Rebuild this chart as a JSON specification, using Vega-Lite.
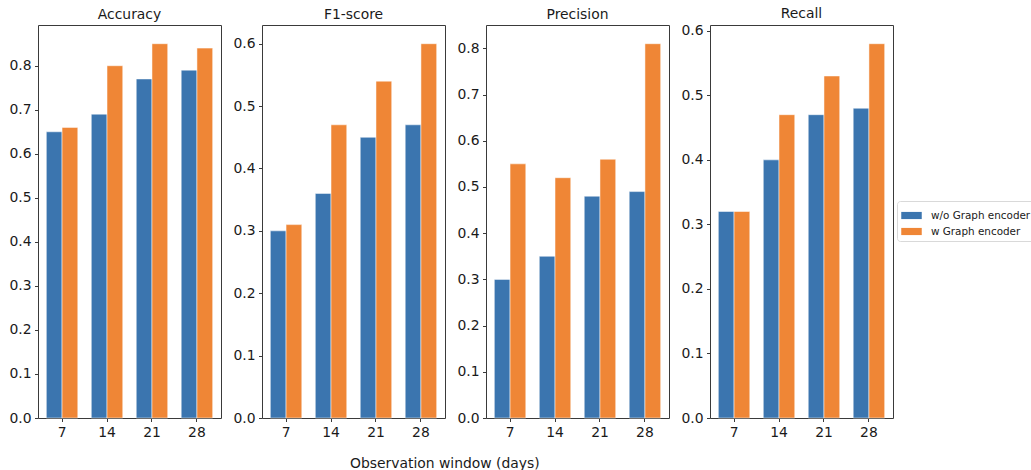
{
  "$schema": "https://vega.github.io/schema/vega-lite/v6.json",
  "padding": {"left": 8, "top": 6, "right": 0, "bottom": 0},
  "background": "white",
  "datasets": {
    "scores": [
      {"metric": "Accuracy", "window": 7, "model": "w/o Graph encoder", "value": 0.65},
      {"metric": "Accuracy", "window": 7, "model": "w Graph encoder", "value": 0.66},
      {"metric": "Accuracy", "window": 14, "model": "w/o Graph encoder", "value": 0.69},
      {"metric": "Accuracy", "window": 14, "model": "w Graph encoder", "value": 0.80},
      {"metric": "Accuracy", "window": 21, "model": "w/o Graph encoder", "value": 0.77},
      {"metric": "Accuracy", "window": 21, "model": "w Graph encoder", "value": 0.85},
      {"metric": "Accuracy", "window": 28, "model": "w/o Graph encoder", "value": 0.79},
      {"metric": "Accuracy", "window": 28, "model": "w Graph encoder", "value": 0.84},
      {"metric": "F1-score", "window": 7, "model": "w/o Graph encoder", "value": 0.30},
      {"metric": "F1-score", "window": 7, "model": "w Graph encoder", "value": 0.31},
      {"metric": "F1-score", "window": 14, "model": "w/o Graph encoder", "value": 0.36},
      {"metric": "F1-score", "window": 14, "model": "w Graph encoder", "value": 0.47},
      {"metric": "F1-score", "window": 21, "model": "w/o Graph encoder", "value": 0.45},
      {"metric": "F1-score", "window": 21, "model": "w Graph encoder", "value": 0.54},
      {"metric": "F1-score", "window": 28, "model": "w/o Graph encoder", "value": 0.47},
      {"metric": "F1-score", "window": 28, "model": "w Graph encoder", "value": 0.60},
      {"metric": "Precision", "window": 7, "model": "w/o Graph encoder", "value": 0.30},
      {"metric": "Precision", "window": 7, "model": "w Graph encoder", "value": 0.55},
      {"metric": "Precision", "window": 14, "model": "w/o Graph encoder", "value": 0.35},
      {"metric": "Precision", "window": 14, "model": "w Graph encoder", "value": 0.52},
      {"metric": "Precision", "window": 21, "model": "w/o Graph encoder", "value": 0.48},
      {"metric": "Precision", "window": 21, "model": "w Graph encoder", "value": 0.56},
      {"metric": "Precision", "window": 28, "model": "w/o Graph encoder", "value": 0.49},
      {"metric": "Precision", "window": 28, "model": "w Graph encoder", "value": 0.81},
      {"metric": "Recall", "window": 7, "model": "w/o Graph encoder", "value": 0.32},
      {"metric": "Recall", "window": 7, "model": "w Graph encoder", "value": 0.32},
      {"metric": "Recall", "window": 14, "model": "w/o Graph encoder", "value": 0.40},
      {"metric": "Recall", "window": 14, "model": "w Graph encoder", "value": 0.47},
      {"metric": "Recall", "window": 21, "model": "w/o Graph encoder", "value": 0.47},
      {"metric": "Recall", "window": 21, "model": "w Graph encoder", "value": 0.53},
      {"metric": "Recall", "window": 28, "model": "w/o Graph encoder", "value": 0.48},
      {"metric": "Recall", "window": 28, "model": "w Graph encoder", "value": 0.58}
    ]
  },
  "data": {"name": "scores"},
  "title": {
    "text": "Observation window (days)",
    "orient": "bottom",
    "anchor": "start",
    "frame": "group",
    "dx": 312,
    "offset": 18,
    "fontSize": 13.9,
    "fontWeight": "normal",
    "color": "#1a1a1a"
  },
  "spacing": 10,
  "hconcat": [
    {
      "title": "Accuracy",
      "width": 183, "height": 393,
      "transform": [{"filter": "datum.metric === 'Accuracy'"}],
      "mark": {"type": "bar", "stroke": "white", "strokeWidth": 0.5},
      "encoding": {
        "x": {"field": "window", "type": "ordinal", "sort": [7, 14, 21, 28], "scale": {"paddingInner": 0.3, "paddingOuter": 0.185}},
        "xOffset": {"field": "model", "type": "nominal", "sort": ["w/o Graph encoder", "w Graph encoder"], "scale": {"paddingInner": 0, "paddingOuter": 0}},
        "y": {"field": "value", "type": "quantitative", "scale": {"domain": [0, 0.8925], "nice": false}, "axis": {"values": [0, 0.1, 0.2, 0.3, 0.4, 0.5, 0.6, 0.7, 0.8]}},
        "color": {"field": "model", "type": "nominal", "sort": ["w/o Graph encoder", "w Graph encoder"], "scale": {"domain": ["w/o Graph encoder", "w Graph encoder"], "range": ["#3b75af", "#ef8636"]}, "legend": {"orient": "none", "legendX": 859, "legendY": 176}}
      }
    },
    {
      "title": "F1-score",
      "width": 183, "height": 393,
      "transform": [{"filter": "datum.metric === 'F1-score'"}],
      "mark": {"type": "bar", "stroke": "white", "strokeWidth": 0.5},
      "encoding": {
        "x": {"field": "window", "type": "ordinal", "sort": [7, 14, 21, 28], "scale": {"paddingInner": 0.3, "paddingOuter": 0.185}},
        "xOffset": {"field": "model", "type": "nominal", "sort": ["w/o Graph encoder", "w Graph encoder"], "scale": {"paddingInner": 0, "paddingOuter": 0}},
        "y": {"field": "value", "type": "quantitative", "scale": {"domain": [0, 0.63], "nice": false}, "axis": {"values": [0, 0.1, 0.2, 0.3, 0.4, 0.5, 0.6]}},
        "color": {"field": "model", "type": "nominal", "sort": ["w/o Graph encoder", "w Graph encoder"], "scale": {"domain": ["w/o Graph encoder", "w Graph encoder"], "range": ["#3b75af", "#ef8636"]}, "legend": {"orient": "none", "legendX": 859, "legendY": 176}}
      }
    },
    {
      "title": "Precision",
      "width": 183, "height": 393,
      "transform": [{"filter": "datum.metric === 'Precision'"}],
      "mark": {"type": "bar", "stroke": "white", "strokeWidth": 0.5},
      "encoding": {
        "x": {"field": "window", "type": "ordinal", "sort": [7, 14, 21, 28], "scale": {"paddingInner": 0.3, "paddingOuter": 0.185}},
        "xOffset": {"field": "model", "type": "nominal", "sort": ["w/o Graph encoder", "w Graph encoder"], "scale": {"paddingInner": 0, "paddingOuter": 0}},
        "y": {"field": "value", "type": "quantitative", "scale": {"domain": [0, 0.8505], "nice": false}, "axis": {"values": [0, 0.1, 0.2, 0.3, 0.4, 0.5, 0.6, 0.7, 0.8]}},
        "color": {"field": "model", "type": "nominal", "sort": ["w/o Graph encoder", "w Graph encoder"], "scale": {"domain": ["w/o Graph encoder", "w Graph encoder"], "range": ["#3b75af", "#ef8636"]}, "legend": {"orient": "none", "legendX": 859, "legendY": 176}}
      }
    },
    {
      "title": "Recall",
      "width": 183, "height": 393,
      "transform": [{"filter": "datum.metric === 'Recall'"}],
      "mark": {"type": "bar", "stroke": "white", "strokeWidth": 0.5},
      "encoding": {
        "x": {"field": "window", "type": "ordinal", "sort": [7, 14, 21, 28], "scale": {"paddingInner": 0.3, "paddingOuter": 0.185}},
        "xOffset": {"field": "model", "type": "nominal", "sort": ["w/o Graph encoder", "w Graph encoder"], "scale": {"paddingInner": 0, "paddingOuter": 0}},
        "y": {"field": "value", "type": "quantitative", "scale": {"domain": [0, 0.609], "nice": false}, "axis": {"values": [0, 0.1, 0.2, 0.3, 0.4, 0.5, 0.6]}},
        "color": {"field": "model", "type": "nominal", "sort": ["w/o Graph encoder", "w Graph encoder"], "scale": {"domain": ["w/o Graph encoder", "w Graph encoder"], "range": ["#3b75af", "#ef8636"]}, "legend": {"orient": "none", "legendX": 859, "legendY": 176}}
      }
    }
  ],
  "resolve": {"scale": {"y": "independent", "x": "independent"}},
  "config": {
    "font": "DejaVu Sans",
    "view": {"stroke": "#3a3a3a", "strokeWidth": 1},
    "title": {"fontSize": 13.9, "fontWeight": "normal", "color": "#1a1a1a", "offset": 3},
    "axis": {
      "grid": false,
      "domain": false,
      "title": null,
      "tickColor": "#3a3a3a",
      "tickSize": 3.5,
      "tickWidth": 1,
      "labelPadding": 3.5,
      "labelFontSize": 13.9,
      "labelColor": "#1a1a1a",
      "labelFont": "DejaVu Sans"
    },
    "axisX": {"labelAngle": 0},
    "axisY": {"format": ".1f", "labelBaseline": "middle"},
    "legend": {
      "title": null,
      "strokeColor": "#d9d9d9",
      "fillColor": "white",
      "cornerRadius": 3,
      "padding": 4,
      "labelFontSize": 10.4,
      "labelColor": "#1a1a1a",
      "labelOffset": 9,
      "rowPadding": 0,
      "symbolType": "M-1,-0.35L1,-0.35L1,0.35L-1,0.35Z",
      "symbolSize": 420,
      "symbolStrokeWidth": 0,
      "symbolOpacity": 1
    }
  }
}
